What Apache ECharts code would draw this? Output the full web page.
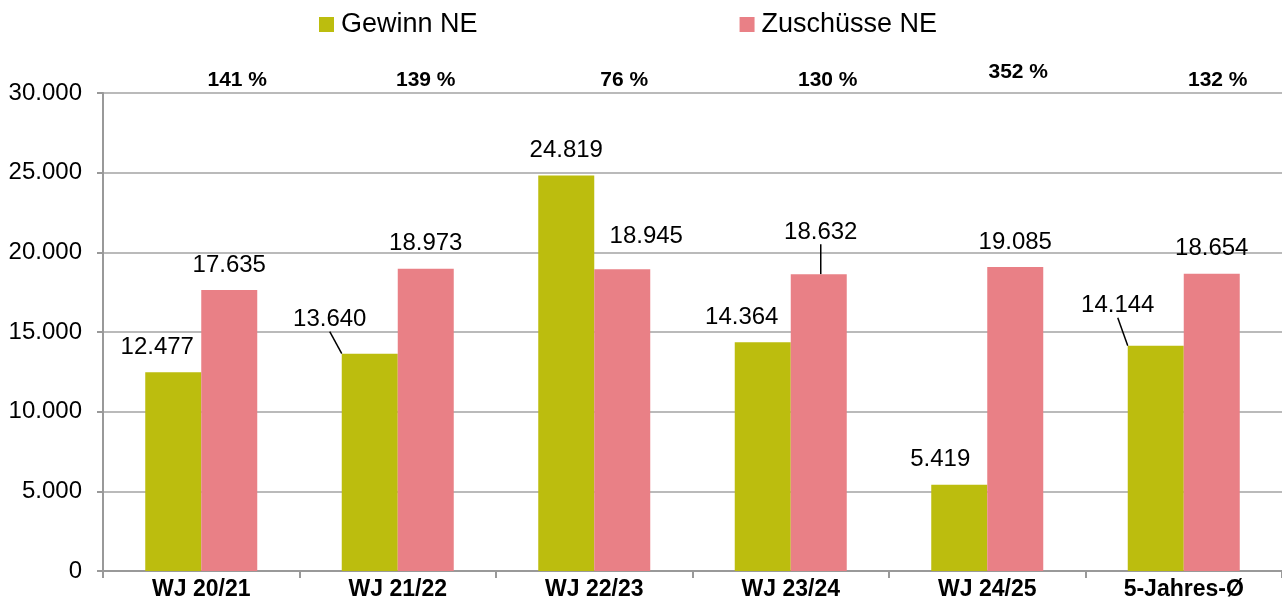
<!DOCTYPE html>
<html>
<head>
<meta charset="utf-8">
<title>Gewinn / Zuschüsse NE</title>
<script src="https://cdn.jsdelivr.net/npm/echarts@6/dist/echarts.min.js"></script>
<style>
  html, body { margin: 0; padding: 0; background: #fff; }
  #chart { width: 1282px; height: 602px; }
</style>
</head>
<body>
<div id="chart"></div>
<script>
// Daten aus der Vorlage
var categories = ['WJ 20/21', 'WJ 21/22', 'WJ 22/23', 'WJ 23/24', 'WJ 24/25', '5-Jahres-Ø']
var gewinn = [12477, 13640, 24819, 14364, 5419, 14144]
var zuschuesse = [17635, 18973, 18945, 18632, 19085, 18654]
var quoten = ['141 %', '139 %', '76 %', '130 %', '352 %', '132 %']
var yTicks = { min: 0, max: 30000, step: 5000 }

// Verschiebung der Wertelabels (dx, dy) wie in der Vorlage
var gewinnShift = [[-16, 0], [-40, -9], [0, 0], [-21, 0], [-19, 0], [-38, -15]]
var zuschussShift = [[0, 0], [0, 0], [24, -8], [2, -17], [0, 0], [0, 0]]
var gewinnLine = [false, true, false, false, false, true]
var zuschussLine = [false, false, false, true, false, false]
// Quoten: horizontale / vertikale Verschiebung ggü. Säulenmitte
var quoteShift = [[36, 0], [28, 0], [30, 0], [37, 0], [31, 8], [34, 0]]

var FONT = '"Liberation Sans", Arial, sans-serif'

function deNum(v) {
  return String(v).replace(/\B(?=(\d{3})+(?!\d))/g, '.')
}

function items(values, lines) {
  return values.map(function(v, i) {
    return { value: v, labelLine: { show: lines[i] } }
  })
}

var quoteRich = {}
quoteShift.forEach(function(s, i) {
  quoteRich['q' + i] = {
    fontSize: 21,
    fontWeight: 'bold',
    color: '#000',
    fontFamily: FONT,
    padding: [0, 0, s[1], s[0] * 2]
  }
})

var chart = echarts.init(document.getElementById('chart'))

chart.setOption({
  animation: false,
  textStyle: { fontFamily: FONT },
  legend: {
    left: 319,
    top: 11,
    padding: 0,
    itemWidth: 15,
    itemHeight: 15,
    itemGap: 262,
    icon: 'rect',
    textStyle: { fontSize: 27, color: '#000', fontFamily: FONT, padding: [0, 0, 0, 2] },
    data: ['Gewinn NE', 'Zuschüsse NE']
  },
  grid: {
    left: 103,
    right: 0,
    top: 93,
    bottom: 31
  },
  xAxis: [{
    type: 'category',
    data: categories,
    axisLine: { lineStyle: { color: '#999', width: 2 } },
    axisTick: { show: true, length: 7, lineStyle: { color: '#999', width: 2 } },
    axisLabel: {
      interval: 0,
      margin: 7,
      color: '#000',
      fontSize: 23,
      fontWeight: 'bold',
      fontFamily: FONT
    }
  }, {
    // Quoten oberhalb der Säulen
    type: 'category',
    position: 'top',
    data: quoten,
    axisLine: { show: false },
    axisTick: { show: false },
    axisLabel: {
      interval: 0,
      margin: 2,
      formatter: function(value, idx) {
        return '{q' + idx + '|' + value + '}'
      },
      rich: quoteRich
    }
  }],
  yAxis: {
    type: 'value',
    min: yTicks.min,
    max: yTicks.max,
    interval: yTicks.step,
    axisLine: { show: true, lineStyle: { color: '#999', width: 2 } },
    axisTick: { show: true, length: 6, lineStyle: { color: '#999', width: 2 } },
    splitLine: { lineStyle: { color: '#a3a3a3', width: 1.5 } },
    axisLabel: {
      margin: 21,
      color: '#000',
      fontSize: 24,
      fontFamily: FONT,
      formatter: deNum
    }
  },
  series: [{
    name: 'Gewinn NE',
    type: 'bar',
    xAxisIndex: 0,
    barWidth: 56,
    barGap: '0%',
    itemStyle: { color: '#bcbd0e' },
    data: items(gewinn, gewinnLine),
    label: {
      show: true,
      position: 'top',
      distance: 13,
      fontSize: 24,
      color: '#000',
      fontFamily: FONT,
      formatter: function(p) { return deNum(p.value) }
    },
    labelLine: { lineStyle: { color: '#000', width: 1.5 } },
    labelLayout: function(p) {
      var s = gewinnShift[p.dataIndex]
      return { dx: s[0], dy: s[1], hideOverlap: false }
    }
  }, {
    name: 'Zuschüsse NE',
    type: 'bar',
    xAxisIndex: 0,
    barWidth: 56,
    barGap: '0%',
    itemStyle: { color: '#e98086' },
    data: items(zuschuesse, zuschussLine),
    label: {
      show: true,
      position: 'top',
      distance: 13,
      fontSize: 24,
      color: '#000',
      fontFamily: FONT,
      formatter: function(p) { return deNum(p.value) }
    },
    labelLine: { lineStyle: { color: '#000', width: 1.5 } },
    labelLayout: function(p) {
      var s = zuschussShift[p.dataIndex]
      return { dx: s[0], dy: s[1], hideOverlap: false }
    }
  }]
})
</script>
</body>
</html>
